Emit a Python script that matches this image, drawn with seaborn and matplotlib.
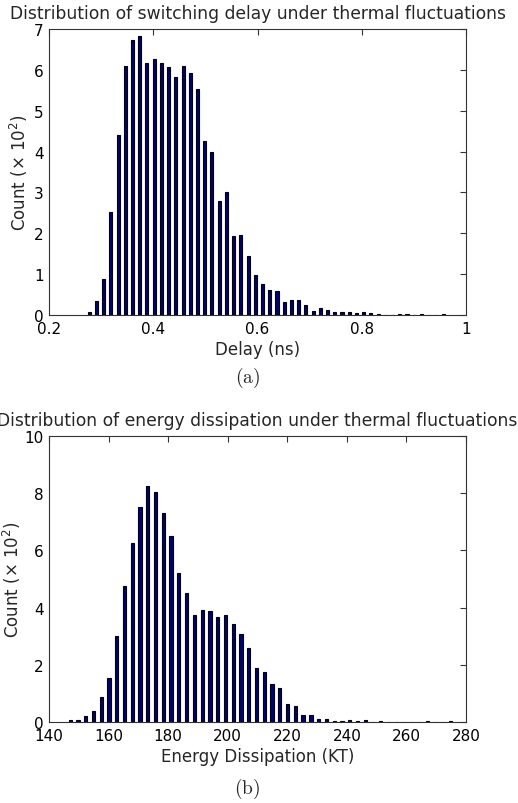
import numpy as np
import pandas as pd
import matplotlib
matplotlib.use("Agg")
import matplotlib.pyplot as plt
import seaborn as sns

# ---- data: histogram bin centres and counts (x 10^2) ----
delay_centers = [0.2770, 0.2909, 0.3047, 0.3186, 0.3324, 0.3463, 0.3602, 0.3740, 0.3879, 0.4017,
                 0.4156, 0.4295, 0.4433, 0.4572, 0.4710, 0.4849, 0.4988, 0.5126, 0.5265, 0.5403,
                 0.5542, 0.5681, 0.5819, 0.5958, 0.6096, 0.6235, 0.6374, 0.6512, 0.6651, 0.6789,
                 0.6928, 0.7067, 0.7205, 0.7344, 0.7482, 0.7621, 0.7760, 0.7898, 0.8037, 0.8175,
                 0.8314, 0.8453, 0.8591, 0.8730, 0.8868, 0.9007, 0.9146, 0.9284, 0.9423, 0.9561]
delay_counts = [0.08, 0.34, 0.87, 2.53, 4.40, 6.09, 6.73, 6.84, 6.16, 6.27,
                6.16, 6.07, 5.83, 6.09, 5.93, 5.52, 4.27, 3.98, 2.79, 3.01,
                1.94, 1.96, 1.44, 0.97, 0.77, 0.60, 0.58, 0.33, 0.36, 0.36,
                0.24, 0.11, 0.18, 0.13, 0.065, 0.065, 0.065, 0.04, 0.065, 0.04,
                0.02, 0.0, 0.0, 0.02, 0.02, 0.0, 0.02, 0.0, 0.0, 0.02]

energy_centers = [147.10, 149.71, 152.31, 154.92, 157.53, 160.14, 162.74, 165.35, 167.96, 170.56,
                  173.17, 175.78, 178.38, 180.99, 183.60, 186.21, 188.81, 191.42, 194.03, 196.63,
                  199.24, 201.85, 204.45, 207.06, 209.67, 212.28, 214.88, 217.49, 220.10, 222.70,
                  225.31, 227.92, 230.52, 233.13, 235.74, 238.35, 240.95, 243.56, 246.17, 248.77,
                  251.38, 253.99, 256.59, 259.20, 261.81, 264.42, 267.02, 269.63, 272.24, 274.84]
energy_counts = [0.08, 0.08, 0.21, 0.40, 0.87, 1.53, 3.00, 4.76, 6.26, 7.51,
                 8.25, 8.05, 7.32, 6.50, 5.21, 4.50, 3.74, 3.93, 3.89, 3.68,
                 3.74, 3.43, 3.09, 2.59, 1.89, 1.74, 1.33, 1.19, 0.64, 0.56,
                 0.23, 0.23, 0.10, 0.10, 0.05, 0.05, 0.07, 0.05, 0.07, 0.0,
                 0.05, 0.0, 0.0, 0.0, 0.0, 0.0, 0.05, 0.0, 0.0, 0.05]

delay_xticks = [0.2, 0.4, 0.6, 0.8, 1.0]
delay_xticklabels = ["0.2", "0.4", "0.6", "0.8", "1"]
delay_yticks = [0, 1, 2, 3, 4, 5, 6, 7]
energy_xticks = [140, 160, 180, 200, 220, 240, 260, 280]
energy_yticks = [0, 2, 4, 6, 8, 10]

sns.set_theme(style="white")
plt.rcParams["font.family"] = ["DejaVu Sans"]
plt.rcParams["mathtext.fontset"] = "dejavusans"

fig = plt.figure(figsize=(5.18, 8.04), dpi=100)
ax1 = fig.add_axes([49 / 518, 1 - 316 / 804, 417 / 518, 286 / 804])
ax2 = fig.add_axes([49 / 518, 1 - 723 / 804, 417 / 518, 286 / 804])

bar_kw = dict(native_scale=True, width=0.42, color="#00007a", saturation=1,
              edgecolor="black", linewidth=0.8)

df1 = pd.DataFrame({"delay": delay_centers, "count": delay_counts})
df2 = pd.DataFrame({"energy": energy_centers, "count": energy_counts})
sns.barplot(data=df1, x="delay", y="count", ax=ax1, **bar_kw)
sns.barplot(data=df2, x="energy", y="count", ax=ax2, **bar_kw)

tick_fs = 11
lab_fs = 12
title_fs = 12.3
for ax, lp in ((ax1, 3), (ax2, 1)):
    ax.tick_params(direction="in", top=True, right=True, length=4, width=0.8,
                   labelsize=tick_fs, pad=4, color="#333333", labelcolor="black")
    for s in ax.spines.values():
        s.set_color("#333333")
        s.set_linewidth(0.8)
    ax.set_ylabel(r"Count ($\times$ 10$^2$)", fontsize=lab_fs, labelpad=lp)

ax1.set_xlim(0.2, 1.0)
ax1.set_ylim(0, 7)
ax1.set_xticks(delay_xticks)
ax1.set_xticklabels(delay_xticklabels)
ax1.set_yticks(delay_yticks)
ax1.set_xlabel("Delay (ns)", fontsize=lab_fs, labelpad=3)
ax1.set_title("Distribution of switching delay under thermal fluctuations",
              fontsize=title_fs, pad=8)

ax2.set_xlim(140, 280)
ax2.set_ylim(0, 10)
ax2.set_xticks(energy_xticks)
ax2.set_yticks(energy_yticks)
ax2.set_xlabel("Energy Dissipation (KT)", fontsize=lab_fs, labelpad=3)
ax2.set_title("Distribution of energy dissipation under thermal fluctuations",
              fontsize=title_fs, pad=8)

fig.text(248 / 518, 1 - 378 / 804, r"$\mathrm{(a)}$", ha="center", va="center",
         fontsize=14, math_fontfamily="cm")
fig.text(247 / 518, 1 - 789 / 804, r"$\mathrm{(b)}$", ha="center", va="center",
         fontsize=14, math_fontfamily="cm")

fig.savefig("out.png", dpi=100, facecolor="white")
